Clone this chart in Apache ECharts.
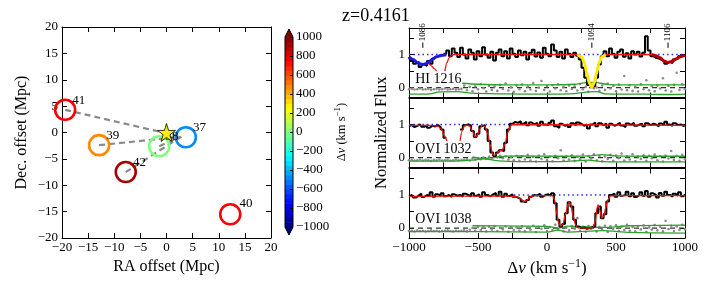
<!DOCTYPE html>
<html><head><meta charset="utf-8">
<script src="https://cdn.jsdelivr.net/npm/echarts@6/dist/echarts.min.js"></script>
<style>html,body{margin:0;padding:0;background:#fff}#c{width:706px;height:283px}</style>
</head><body><div id="c"></div>
<script>
// ================= DATA =================
// Left panel: galaxies around the absorber
const galaxyIds = ['37', '38', '39', '40', '41', '42'];
const galaxyRA  = [3.7, -1.4, -12.9, 12.2, -19.4, -7.8];
const galaxyDec = [-0.9, -2.6, -2.4, -15.5, 4.3, -7.5];
const galaxyDv  = [-480, 0, 480, 760, 760, 920];
const absorberRA = 0, absorberDec = 0;
const linkIds = ['41', '39', '42', '38'];
const linkEnd = [2.8, -0.8];
const mapTicks = [-20, -15, -10, -5, 0, 5, 10, 15, 20];
const cbTicks = [-1000, -800, -600, -400, -200, 0, 200, 400, 600, 800, 1000];

// Right panels: spectra, velocity bins -1000..1000 step 20
const velStart = -1000, velStep = 20;
const fluxHI = [0.92,0.80,0.72,0.78,0.62,0.70,0.66,0.80,0.72,0.88,
  null,null,null,1.02,1.12,0.95,1.18,1.05,0.92,1.20,
  1.00,0.88,1.15,1.05,0.85,1.10,0.95,1.22,1.00,0.90,
  1.08,0.82,1.05,1.15,0.95,1.10,0.88,1.18,1.02,0.92,
  1.12,0.98,1.08,0.85,1.05,1.14,0.94,1.06,0.90,1.20,
  1.02,0.95,1.30,1.12,0.92,1.08,0.88,1.15,1.02,0.92,
  1.05,0.96,0.85,0.60,0.30,0.08,0.02,0.05,0.30,0.70,
  0.95,1.10,0.95,1.18,1.02,0.90,1.08,1.15,0.93,1.04,
  0.88,1.10,1.00,1.08,0.94,1.05,1.55,1.12,0.95,0.90,
  0.88,0.84,0.80,0.72,0.78,0.74,0.85,0.88,0.95,0.98,0.95];
const fluxOVI1032 = [0.95,0.98,0.92,0.96,1.00,0.93,0.97,0.90,0.96,0.94,
  0.98,0.92,0.85,0.60,null,null,null,null,null,0.85,
  0.98,1.00,0.97,0.80,0.62,0.72,0.95,0.98,0.85,0.50,
  0.15,0.05,0.15,0.22,0.20,0.45,0.85,1.02,1.08,1.05,
  1.10,1.02,1.08,0.98,1.06,1.00,1.05,0.96,1.08,1.00,
  0.98,1.05,1.12,0.95,0.90,1.02,0.96,1.00,0.92,1.04,
  0.98,1.06,1.02,0.96,1.00,0.88,1.00,1.06,0.95,1.04,
  0.98,1.03,0.90,1.02,0.96,1.00,1.05,0.97,0.92,1.03,
  0.99,1.05,0.96,1.00,1.02,0.95,1.04,0.98,1.02,1.00,
  0.94,1.03,0.98,1.08,1.00,0.96,1.04,0.98,1.00,0.95,0.97];
const fluxOVI1038 = [0.95,1.00,0.92,0.98,1.04,0.94,1.00,0.97,1.08,0.95,
  1.02,0.98,1.05,0.96,1.00,0.94,1.02,0.98,1.00,0.95,
  1.04,1.00,0.96,1.05,0.98,1.02,0.95,1.08,1.00,0.96,
  1.02,1.06,0.98,1.10,0.95,1.04,0.97,1.02,0.95,0.92,
  0.88,0.80,0.78,0.85,0.95,1.00,0.98,1.04,0.95,1.00,
  1.02,0.98,1.05,0.75,0.25,0.05,0.12,0.45,0.78,0.65,
  0.25,0.05,0.00,0.02,-0.02,0.00,0.03,0.05,0.45,0.65,
  0.30,0.42,0.80,1.00,1.04,0.95,1.08,0.98,1.00,1.10,
  0.96,1.05,0.94,1.00,1.08,0.98,1.12,0.95,1.05,1.00,
  0.92,1.06,0.98,1.10,1.00,0.95,1.04,0.98,1.08,0.96,1.02];
const grayHI = [-0.05,-0.04,-0.06,-0.05,-0.03,-0.06,-0.05,-0.04,-0.07,-0.05,-0.04,-0.06,-0.05,-0.03,-0.06,-0.05,-0.04,-0.06,-0.05,-0.04,
  0.06,-0.08,0.02,-0.11,0.04,-0.05,0.10,-0.02,-0.12,0.05,-0.07,0.03,-0.10,0.08,-0.04,0.12,-0.09,0.01,-0.13,0.06,
  -0.05,0.09,-0.11,0.03,-0.06,0.14,-0.10,0.00,0.20,-0.07,0.05,-0.12,0.07,-0.03,0.10,-0.08,0.02,-0.11,0.06,-0.04,
  0.04,-0.09,0.11,-0.05,0.02,-0.13,0.08,-0.02,0.00,-0.10,0.06,-0.07,0.12,-0.03,0.05,-0.11,0.09,-0.06,0.35,-0.08,
  0.07,-0.10,0.03,-0.12,0.10,-0.05,0.22,-0.08,0.04,-0.11,0.06,-0.03,0.28,-0.09,0.05,-0.12,0.08,0.45,-0.07,0.10,-0.05];
const grayOVI1032 = [-0.08,-0.07,-0.09,-0.08,-0.06,-0.09,-0.07,-0.08,-0.10,-0.07,-0.08,-0.06,-0.09,-0.08,-0.07,-0.09,-0.08,-0.06,-0.08,-0.07,
  -0.07,-0.05,-0.09,-0.03,-0.06,-0.02,-0.05,0.00,-0.04,0.02,-0.03,0.03,0.00,0.05,-0.02,0.04,-0.06,0.02,-0.08,0.05,
  -0.10,0.04,-0.06,0.08,-0.09,0.02,-0.12,0.06,-0.04,0.10,-0.08,0.03,-0.11,0.05,-0.02,0.22,-0.09,0.04,-0.06,0.07,
  -0.10,0.02,-0.05,0.09,-0.12,0.04,-0.03,0.10,-0.08,0.05,-0.11,0.03,-0.04,0.08,-0.10,0.06,-0.02,0.12,-0.09,0.04,
  -0.06,0.10,-0.11,0.03,-0.04,0.07,-0.10,0.05,-0.02,0.09,-0.08,0.04,-0.12,0.06,-0.03,0.20,-0.07,0.05,-0.10,0.08,-0.05];
const grayOVI1038 = [-0.09,-0.08,-0.10,-0.07,-0.09,-0.08,-0.10,-0.09,-0.07,-0.09,-0.08,-0.10,-0.09,-0.08,-0.07,-0.09,-0.10,-0.08,-0.09,-0.08,
  -0.07,-0.10,-0.05,0.00,-0.08,0.03,-0.06,0.02,-0.10,0.04,-0.05,0.06,-0.09,0.01,-0.04,0.05,-0.11,0.03,-0.06,0.02,
  -0.08,0.05,-0.10,0.02,-0.05,0.07,-0.12,0.04,-0.02,0.08,-0.09,0.03,-0.06,0.10,-0.04,0.05,-0.10,0.02,-0.07,0.06,
  -0.03,0.30,-0.08,0.04,-0.11,0.06,-0.02,0.09,-0.10,0.03,-0.05,0.07,-0.12,0.05,-0.03,0.08,-0.09,0.04,-0.06,0.10,
  -0.08,0.03,-0.10,0.06,-0.04,0.08,-0.11,0.02,-0.05,0.09,-0.07,0.04,-0.10,0.22,-0.03,0.07,-0.09,0.05,-0.06,0.10,-0.04];

// model fits [velocity, flux]
const modelHI = [[-1000,0.92],[-960,0.82],[-930,0.74],[-900,0.70],[-875,0.72],[-855,0.72],[-835,0.65],[-818,0.57],[-800,0.50],[-770,null],
  [-740,0.50],[-725,0.75],[-710,0.90],[-690,0.98],[-670,1.0],[220,1.0],[250,0.93],[270,0.75],[290,0.42],[305,0.15],[324,0.0],[343,0.15],[358,0.42],[378,0.75],[398,0.93],[425,1.0],
  [760,1.0],[790,0.96],[820,0.9],[850,0.8],[877,0.76],[905,0.79],[935,0.86],[965,0.93],[1000,0.97]];
const compHIblue = [[-1000,0.93],[-970,0.85],[-940,0.76],[-915,0.71],[-900,0.70],[-880,0.72],[-855,0.78],[-830,0.86],[-800,0.93],[-770,0.97],[-730,0.99]];
const compHIyellow = [[220,1.0],[250,0.93],[270,0.75],[290,0.42],[305,0.15],[324,0.0],[343,0.15],[358,0.42],[378,0.75],[398,0.93],[425,1.0]];
const compHIred = [[760,1.0],[790,0.96],[820,0.9],[850,0.8],[877,0.76],[905,0.79],[935,0.86],[965,0.93],[1000,0.97]];
const modelOVI1032 = [[-1000,0.97],[-850,0.97],[-790,0.95],[-765,0.86],[-745,0.66],[-725,0.50],[-680,null],[-630,0.50],[-615,0.80],[-600,0.95],[-580,0.98],
  [-560,0.95],[-540,0.80],[-522,0.62],[-505,0.66],[-490,0.85],[-470,0.97],[-450,0.94],[-430,0.72],[-410,0.35],[-393,0.10],[-380,0.06],[-365,0.12],[-345,0.20],[-325,0.22],[-305,0.40],[-285,0.75],[-265,0.95],[-250,1.0],[1000,0.97]];
const modelOVI1038 = [[-1000,0.96],[-300,0.97],[-220,0.95],[-190,0.88],[-165,0.80],[-145,0.85],[-120,0.95],[-90,0.98],[40,0.98],[55,0.85],[70,0.45],[85,0.15],[98,0.06],[115,0.12],[135,0.42],[152,0.72],[162,0.78],[172,0.70],[190,0.35],[208,0.08],[225,0.01],[300,0.0],[335,0.02],[350,0.20],[362,0.60],[370,0.70],[382,0.55],[396,0.30],[410,0.35],[425,0.60],[440,0.85],[460,0.97],[500,0.98],[1000,0.98]];
// continuum (dotted) segments
const contHI = [[-1000,1],[-700,1],[-500,null],[200,1],[440,1],[600,null],[740,1],[1000,1]];
const contOVI1032 = [[-1000,1],[-250,1]];
const contOVI1038 = [[-240,1],[470,1]];
// error envelopes (green)
const greenHIa = [[-1000,-0.20],[-850,-0.19],[-780,-0.13],[-650,-0.12],[-550,-0.17],[-300,-0.19],[0,-0.2],[200,-0.18],[300,-0.13],[360,-0.12],[420,-0.19],[700,-0.2],[900,-0.21],[1000,-0.2]];
const greenHIb = [[-615,0.13],[-500,0.10],[-300,0.08],[0,0.08],[200,0.10],[300,0.16],[360,0.15],[450,0.09],[700,0.08],[1000,0.08]];
const greenOVI1032a = [[-1000,-0.11],[-700,-0.11],[-550,-0.08],[-450,-0.03],[-350,0.03],[-200,0.05],[100,0.04],[300,0.05],[400,0.09],[500,0.05],[800,0.04],[1000,0.04]];
const greenOVI1032b = [[-540,0.02],[-450,-0.04],[-350,-0.1],[-200,-0.12],[100,-0.12],[300,-0.08],[400,-0.12],[700,-0.13],[1000,-0.13]];
const greenOVI1038a = [[-1000,-0.11],[-500,-0.11],[0,-0.12],[80,-0.06],[150,-0.12],[400,-0.08],[600,-0.13],[1000,-0.15]];
const greenOVI1038b = [[-540,0.07],[-200,0.06],[0,0.05],[80,0.0],[150,0.06],[400,0.02],[600,0.07],[1000,0.09]];
const panelNames = ['HI 1216', 'OVI 1032', 'OVI 1038'];
const panelLabelPos = [-955, 0.25];
const lineIdNames = ['1086', '1094', '1106'];
const lineIdVel = [-900, 325, 877];
const velTicks = [-1000, -500, 0, 500, 1000];
const fluxTickLabels = [0, 1];
const fluxTicks = [0, 0.5, 1, 1.5];

// ================= CHART =================
const FONT = '"Liberation Serif", "DejaVu Serif", serif';
const minus = v => String(v).replace('-', '\u2212');
function jet(t) {
  const c = x => Math.max(0, Math.min(1, x));
  const r = c(1.5 - Math.abs(4*t - 3)), g = c(1.5 - Math.abs(4*t - 2)), b = c(1.5 - Math.abs(4*t - 1));
  return 'rgb(' + Math.round(r*255) + ',' + Math.round(g*255) + ',' + Math.round(b*255) + ')';
}
const dvColor = dv => jet((dv + 1000) / 2000);
const nm = v => (v === null ? '-' : v);

const grids = [], xAxes = [], yAxes = [], series = [];
function axis(gi, pos, min, max, o) {
  o = o || {};
  const a = {
    gridIndex: gi, type: 'value', position: pos, min: min, max: max,
    splitLine: {show: false},
    axisLine: {show: true, onZero: false, lineStyle: {color: '#000', width: 1}},
    axisTick: {show: true, inside: true, length: o.tickLen || 5, lineStyle: {color: '#000', width: 1}},
    axisLabel: {show: !!o.labels, color: '#000', fontFamily: FONT, fontSize: 13, margin: o.margin == null ? 4 : o.margin, formatter: o.fmt || minus},
    z: o.z || 0
  };
  if (o.interval) a.interval = o.interval;
  if (o.tickCustom) a.axisTick.customValues = o.tickCustom;
  if (o.labelCustom) a.axisLabel.customValues = o.labelCustom;
  if (o.hideLine) a.axisLine.show = false;
  if (o.name) {
    a.name = o.name; a.nameLocation = 'middle'; a.nameGap = o.nameGap; a.nameRotate = o.nameRotate;
    a.nameTextStyle = o.nameStyle;
  }
  return a;
}
function richName(size) {
  return {
    fontFamily: FONT, fontSize: size, color: '#000',
    rich: {
      n: {fontFamily: FONT, fontSize: size, color: '#000'},
      i: {fontFamily: FONT, fontSize: size, fontStyle: 'italic', color: '#000'},
      s: {fontFamily: FONT, fontSize: Math.round(size*0.7), color: '#000', padding: [0, 0, Math.round(size*0.55), 0]}
    }
  };
}
const dvName = '{n|\u0394}{i|v}{n| (km s}{s|\u22121}{n|)}';

// ---- Map grid ----
grids.push({left: 62, top: 27, width: 209, height: 211});
xAxes.push(axis(0, 'bottom', -20, 20, {interval: 5, labels: true, margin: 3, name: 'RA offset (Mpc)', nameGap: 20,
  nameStyle: {fontFamily: FONT, fontSize: 16, color: '#000'}}));
xAxes.push(axis(0, 'top', -20, 20, {interval: 5}));
yAxes.push(axis(0, 'left', -20, 20, {interval: 5, labels: true, margin: 4, name: 'Dec. offset (Mpc)', nameGap: 32, nameRotate: 90,
  nameStyle: {fontFamily: FONT, fontSize: 16, color: '#000'}}));
yAxes.push(axis(0, 'right', -20, 20, {interval: 5}));

const idx = id => galaxyIds.indexOf(id);
linkIds.forEach(id => {
  const k = idx(id);
  series.push({type: 'line', xAxisIndex: 0, yAxisIndex: 0, symbol: 'none', silent: true, z: 2,
    data: [[galaxyRA[k], galaxyDec[k]], linkEnd],
    lineStyle: {color: '#8a8a8a', width: 2.2, type: [6, 4]}});
});
const labelShift = {'38': [24, 2], '40': [27, 1]};
series.push({type: 'scatter', xAxisIndex: 0, yAxisIndex: 0, symbol: 'circle', symbolSize: 20, z: 3,
  data: galaxyIds.map((id, k) => ({
    value: [galaxyRA[k], galaxyDec[k]], name: id,
    itemStyle: {color: 'rgba(0,0,0,0)', borderColor: dvColor(galaxyDv[k]), borderWidth: 2.6, opacity: 1},
    label: {show: true, formatter: id, position: labelShift[id] || [25, 2], align: 'center', verticalAlign: 'middle',
      fontFamily: FONT, fontSize: 13, color: '#000'}
  }))});
series.push({type: 'scatter', xAxisIndex: 0, yAxisIndex: 0, z: 6, symbolSize: 18,
  symbol: 'path://M50,0 L61,35 L98,35 L68,57 L79,91 L50,70 L21,91 L32,57 L2,35 L39,35 Z',
  itemStyle: {color: '#ffee00', borderColor: '#000', borderWidth: 0.8, opacity: 1},
  data: [[absorberRA, absorberDec]]});

// ---- Colorbar grid ----
grids.push({left: 285, top: 37, width: 8, height: 190});
const cbX = xAxes.length, cbY = yAxes.length;
xAxes.push({gridIndex: 1, type: 'value', min: 0, max: 1, show: false});
yAxes.push(axis(1, 'right', -1000, 1000, {interval: 200, labels: true, margin: 3, tickLen: 3, hideLine: true, z: 10,
  name: dvName, nameGap: 34, nameRotate: 90, nameStyle: richName(12.5)}));
const cbBands = [];
for (let i = 0; i < cbTicks.length - 1; i++) {
  const a = cbTicks[i], b = cbTicks[i+1];
  for (let j = 0; j < 4; j++) cbBands.push([a + (b-a)*j/4, a + (b-a)*(j+1)/4]);
}
series.push({type: 'custom', xAxisIndex: cbX, yAxisIndex: cbY, silent: true, z: 2, data: cbBands,
  renderItem: (p, api) => {
    const lo = api.value(0), hi = api.value(1);
    const p1 = api.coord([0, hi]), p2 = api.coord([1, lo]);
    return {type: 'rect', shape: {x: p1[0], y: p1[1], width: p2[0]-p1[0], height: p2[1]-p1[1] + 0.6},
      style: {fill: dvColor((lo+hi)/2)}};
  }});
series.push({type: 'custom', xAxisIndex: cbX, yAxisIndex: cbY, silent: true, z: 3, data: [[0, 0]],
  renderItem: (p, api) => {
    const tl = api.coord([0, cbTicks[cbTicks.length-1]]), br = api.coord([1, cbTicks[0]]);
    const mx = (tl[0]+br[0])/2, ext = 8;
    return {type: 'group', children: [
      {type: 'polygon', shape: {points: [[tl[0], tl[1]], [br[0], tl[1]], [mx, tl[1]-ext]]}, style: {fill: '#800000'}},
      {type: 'polygon', shape: {points: [[tl[0], br[1]], [br[0], br[1]], [mx, br[1]+ext]]}, style: {fill: '#00007f'}},
      {type: 'polygon', shape: {points: [[tl[0], tl[1]], [mx, tl[1]-ext], [br[0], tl[1]], [br[0], br[1]], [mx, br[1]+ext], [tl[0], br[1]]]},
        style: {fill: null, stroke: '#000', lineWidth: 1}}
    ]};
  }});

// ---- Spectral panels ----
const panelTops = [28, 98, 168.5];
const fluxSets = [fluxHI, fluxOVI1032, fluxOVI1038];
const graySets = [grayHI, grayOVI1032, grayOVI1038];
const modelSets = [modelHI, modelOVI1032, modelOVI1038];
const contSets = [contHI, contOVI1032, contOVI1038];
const greenSets = [[greenHIa, greenHIb], [greenOVI1032a, greenOVI1032b], [greenOVI1038a, greenOVI1038b]];
const velFmt = v => (velTicks.indexOf(v) >= 0 ? minus(v) : '');
for (let pI = 0; pI < 3; pI++) {
  const gi = grids.length;
  grids.push({left: 409, top: panelTops[pI], width: 276, height: 69.5});
  const xi = xAxes.length, yi = yAxes.length;
  const last = pI === 2;
  xAxes.push(axis(gi, 'bottom', -1000, 1000, Object.assign({interval: 250, labels: last, fmt: velFmt, margin: 3},
    last ? {name: dvName, nameGap: 20, nameStyle: richName(17)} : {})));
  xAxes.push(axis(gi, 'top', -1000, 1000, {interval: 250}));
  yAxes.push(axis(gi, 'left', -0.3, 1.8, Object.assign({labels: true, tickCustom: fluxTicks, labelCustom: fluxTickLabels, margin: 4},
    pI === 1 ? {name: 'Normalized Flux', nameGap: 19, nameRotate: 90, nameStyle: {fontFamily: FONT, fontSize: 16.5, color: '#000'}} : {})));
  yAxes.push(axis(gi, 'right', -0.3, 1.8, {tickCustom: fluxTicks}));
  const base = {xAxisIndex: xi, yAxisIndex: yi, symbol: 'none', silent: true, animation: false};
  // zero line
  series.push(Object.assign({}, base, {type: 'line', z: 2, data: [[-1000, 0], [1000, 0]],
    lineStyle: {color: '#333', width: 1.2, type: [5, 4]}}));
  // gray residual points
  series.push({type: 'scatter', xAxisIndex: xi, yAxisIndex: yi, silent: true, z: 2, symbolSize: 2.6,
    itemStyle: {color: '#8c8c8c', opacity: 1},
    data: graySets[pI].map((g, k) => [velStart + velStep*k, g])});
  // green envelopes
  greenSets[pI].forEach(gs => series.push(Object.assign({}, base, {type: 'line', z: 3, data: gs, smooth: 0.3,
    lineStyle: {color: '#2ca02c', width: 1.3}})));
  // continuum dotted
  series.push(Object.assign({}, base, {type: 'line', z: 3, data: contSets[pI].map(d => [d[0], nm(d[1])]),
    lineStyle: {color: '#2a2aff', width: 1.4, type: [1.5, 3]}}));
  // flux histogram
  series.push(Object.assign({}, base, {type: 'line', z: 4, step: 'middle', connectNulls: false,
    data: fluxSets[pI].map((f, k) => [velStart + velStep*k, nm(f)]),
    lineStyle: {color: '#000', width: 2}}));
  // total model
  series.push(Object.assign({}, base, {type: 'line', z: 5, smooth: 0.3, smoothMonotone: 'x', connectNulls: false,
    data: modelSets[pI].map(d => [d[0], nm(d[1])]),
    lineStyle: {color: '#ee1111', width: 1.3}}));
  // panel label
  series.push({type: 'custom', xAxisIndex: xi, yAxisIndex: yi, silent: true, z: 8, data: [panelLabelPos],
    renderItem: (p, api) => {
      const c = api.coord([api.value(0), api.value(1)]);
      return {type: 'text', x: c[0], y: c[1], style: {text: panelNames[pI], font: '14px ' + FONT, fill: '#000',
        align: 'left', verticalAlign: 'middle'}};
    }});
  if (pI === 0) {
    [[compHIblue, '#1a1adb'], [compHIyellow, '#ffe800'], [compHIred, '#b80000']].forEach(cc => {
      series.push(Object.assign({}, base, {type: 'line', z: 6, smooth: 0.3, smoothMonotone: 'x', data: cc[0],
        lineStyle: {color: cc[1], width: 3}}));
    });
    series.push({type: 'custom', xAxisIndex: xi, yAxisIndex: yi, silent: true, z: 8,
      data: lineIdVel.map(v => [v, 1.2]),
      renderItem: (p, api) => {
        const v = api.value(0);
        const a = api.coord([v, 1.2]), b = api.coord([v, 1.36]), t = api.coord([v, 1.4]);
        return {type: 'group', children: [
          {type: 'line', shape: {x1: a[0], y1: a[1], x2: b[0], y2: b[1]}, style: {stroke: '#000', lineWidth: 1}},
          {type: 'text', x: t[0], y: t[1], rotation: Math.PI/2,
            style: {text: lineIdNames[p.dataIndex], font: '9px ' + FONT, fill: '#000', align: 'left', verticalAlign: 'middle'}}
        ]};
      }});
  }
}

const chart = echarts.init(document.getElementById('c'), null, {renderer: 'canvas'});
chart.setOption({
  animation: false,
  backgroundColor: '#fff',
  title: {text: 'z=0.4161', left: 337, top: 2, textStyle: {fontFamily: FONT, fontSize: 18, fontWeight: 'normal', color: '#000'}},
  grid: grids, xAxis: xAxes, yAxis: yAxes, series: series
});
</script></body></html>
